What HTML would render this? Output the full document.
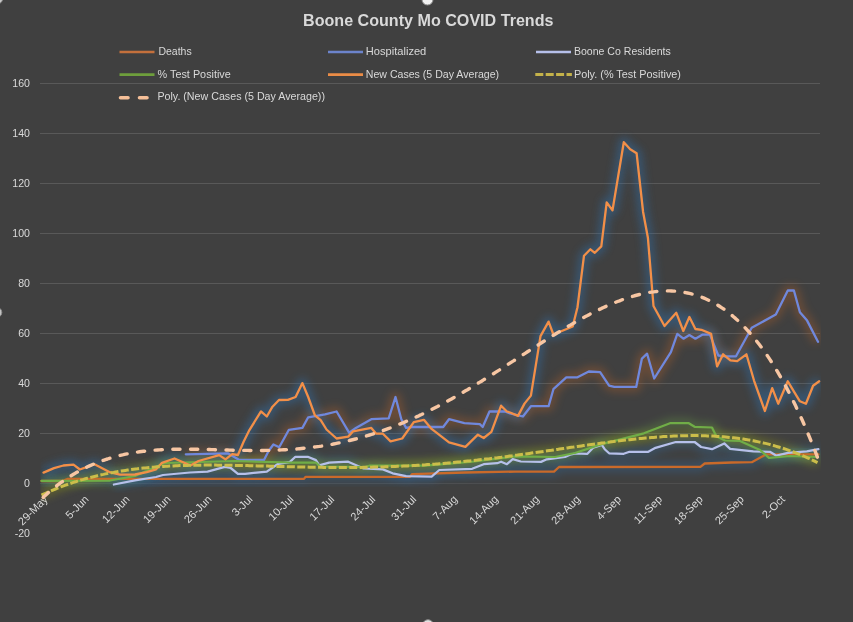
<!DOCTYPE html>
<html><head><meta charset="utf-8"><title>Boone County Mo COVID Trends</title>
<style>
html,body{margin:0;padding:0;background:#404040;}
body{width:853px;height:622px;overflow:hidden;position:relative;}
svg{position:absolute;left:0;top:0;}
.ax,.lg,.ay{font-family:"Liberation Sans",Arial,sans-serif;font-size:11px;fill:#d9d9d9;}
.ay{font-size:10.6px;}
.tt{font-family:"Liberation Sans",Arial,sans-serif;font-size:17px;font-weight:bold;fill:#d9d9d9;}
</style></head><body>
<svg width="853" height="622" viewBox="0 0 853 622">
<text x="303" y="25.7" class="tt" textLength="250.5" lengthAdjust="spacingAndGlyphs">Boone County Mo COVID Trends</text>
<line x1="119.5" y1="52.0" x2="154.5" y2="52.0" stroke="#c4703c" stroke-width="2.6" stroke-linecap="butt"/>
<text x="158.4" y="54.9" class="lg" textLength="33.3" lengthAdjust="spacingAndGlyphs">Deaths</text>
<line x1="328" y1="52.0" x2="363" y2="52.0" stroke="#6c84cc" stroke-width="2.6" stroke-linecap="butt"/>
<text x="365.8" y="54.9" class="lg" textLength="60.5" lengthAdjust="spacingAndGlyphs">Hospitalized</text>
<line x1="536" y1="52.0" x2="571" y2="52.0" stroke="#b6c0ea" stroke-width="2.6" stroke-linecap="butt"/>
<text x="573.9" y="54.9" class="lg" textLength="96.9" lengthAdjust="spacingAndGlyphs">Boone Co Residents</text>
<line x1="119.5" y1="74.6" x2="154.5" y2="74.6" stroke="#6e9e3c" stroke-width="2.6" stroke-linecap="butt"/>
<text x="157.6" y="77.6" class="lg" textLength="73.2" lengthAdjust="spacingAndGlyphs">% Test Positive</text>
<line x1="328" y1="74.6" x2="363" y2="74.6" stroke="#eb8c46" stroke-width="2.6" stroke-linecap="butt"/>
<text x="365.8" y="77.6" class="lg" textLength="133.3" lengthAdjust="spacingAndGlyphs">New Cases (5 Day Average)</text>
<line x1="535.3" y1="74.4" x2="571.9" y2="74.4" stroke="#c4b24a" stroke-width="3" stroke-linecap="butt" stroke-dasharray="8 2.4"/>
<text x="573.9" y="77.6" class="lg" textLength="107.1" lengthAdjust="spacingAndGlyphs">Poly. (% Test Positive)</text>
<line x1="120.5" y1="97.7" x2="148.5" y2="97.7" stroke="#f5bf98" stroke-width="3.6" stroke-linecap="round" stroke-dasharray="7.5 11.5"/>
<text x="157.4" y="100.2" class="lg" textLength="167.6" lengthAdjust="spacingAndGlyphs">Poly. (New Cases (5 Day Average))</text>
<defs><filter id="glow" x="-20%" y="-20%" width="140%" height="140%"><feGaussianBlur stdDeviation="4"/></filter><clipPath id="pa"><rect x="40.5" y="80" width="780.5" height="456"/></clipPath></defs>
<line x1="40" y1="483.5" x2="820" y2="483.5" stroke="#4e4e4e" stroke-width="1"/>
<line x1="40" y1="433.5" x2="820" y2="433.5" stroke="#595959" stroke-width="1"/>
<line x1="40" y1="383.5" x2="820" y2="383.5" stroke="#595959" stroke-width="1"/>
<line x1="40" y1="333.5" x2="820" y2="333.5" stroke="#595959" stroke-width="1"/>
<line x1="40" y1="283.5" x2="820" y2="283.5" stroke="#595959" stroke-width="1"/>
<line x1="40" y1="233.5" x2="820" y2="233.5" stroke="#595959" stroke-width="1"/>
<line x1="40" y1="183.5" x2="820" y2="183.5" stroke="#595959" stroke-width="1"/>
<line x1="40" y1="133.5" x2="820" y2="133.5" stroke="#595959" stroke-width="1"/>
<line x1="40" y1="83.5" x2="820" y2="83.5" stroke="#595959" stroke-width="1"/>
<text x="30" y="537.3" text-anchor="end" class="ay">-20</text>
<text x="30" y="487.2" text-anchor="end" class="ay">0</text>
<text x="30" y="437.1" text-anchor="end" class="ay">20</text>
<text x="30" y="387.0" text-anchor="end" class="ay">40</text>
<text x="30" y="336.9" text-anchor="end" class="ay">60</text>
<text x="30" y="286.8" text-anchor="end" class="ay">80</text>
<text x="30" y="236.7" text-anchor="end" class="ay">100</text>
<text x="30" y="186.6" text-anchor="end" class="ay">120</text>
<text x="30" y="136.6" text-anchor="end" class="ay">140</text>
<text x="30" y="86.5" text-anchor="end" class="ay">160</text>
<text transform="translate(48.5,500.0) rotate(-45)" text-anchor="end" class="ax">29-May</text>
<text transform="translate(89.4,500.0) rotate(-45)" text-anchor="end" class="ax">5-Jun</text>
<text transform="translate(130.4,500.0) rotate(-45)" text-anchor="end" class="ax">12-Jun</text>
<text transform="translate(171.3,500.0) rotate(-45)" text-anchor="end" class="ax">19-Jun</text>
<text transform="translate(212.3,500.0) rotate(-45)" text-anchor="end" class="ax">26-Jun</text>
<text transform="translate(253.2,500.0) rotate(-45)" text-anchor="end" class="ax">3-Jul</text>
<text transform="translate(294.2,500.0) rotate(-45)" text-anchor="end" class="ax">10-Jul</text>
<text transform="translate(335.1,500.0) rotate(-45)" text-anchor="end" class="ax">17-Jul</text>
<text transform="translate(376.1,500.0) rotate(-45)" text-anchor="end" class="ax">24-Jul</text>
<text transform="translate(417.0,500.0) rotate(-45)" text-anchor="end" class="ax">31-Jul</text>
<text transform="translate(458.0,500.0) rotate(-45)" text-anchor="end" class="ax">7-Aug</text>
<text transform="translate(498.9,500.0) rotate(-45)" text-anchor="end" class="ax">14-Aug</text>
<text transform="translate(539.9,500.0) rotate(-45)" text-anchor="end" class="ax">21-Aug</text>
<text transform="translate(580.9,500.0) rotate(-45)" text-anchor="end" class="ax">28-Aug</text>
<text transform="translate(621.8,500.0) rotate(-45)" text-anchor="end" class="ax">4-Sep</text>
<text transform="translate(662.8,500.0) rotate(-45)" text-anchor="end" class="ax">11-Sep</text>
<text transform="translate(703.7,500.0) rotate(-45)" text-anchor="end" class="ax">18-Sep</text>
<text transform="translate(744.6,500.0) rotate(-45)" text-anchor="end" class="ax">25-Sep</text>
<text transform="translate(785.6,500.0) rotate(-45)" text-anchor="end" class="ax">2-Oct</text>
<g clip-path="url(#pa)">
<path d="M41.5,481.0 L62.0,481.0 L68.0,478.9 L304.0,478.9 L305.5,476.8 L410.0,476.8 L412.0,474.2 L465.0,472.5 L515.0,471.6 L554.0,471.6 L559.0,467.0 L700.4,466.9 L704.7,463.5 L731.6,462.5 L751.8,462.2 L766.3,454.3 L818.4,454.3" fill="none" stroke="#2e75b6" stroke-width="10" stroke-linejoin="round" opacity="0.3" filter="url(#glow)"/>
<path d="M185.8,454.3 L227.8,453.3 L236.4,458.2 L239.3,460.0 L264.0,460.0 L268.6,451.0 L273.4,444.5 L279.2,447.2 L288.9,429.8 L302.4,427.9 L308.2,417.3 L325.0,414.4 L336.6,411.5 L349.1,432.7 L355.9,427.9 L371.3,419.2 L388.7,418.3 L395.5,397.0 L401.3,419.2 L406.1,427.9 L411.9,427.0 L443.2,427.0 L449.0,419.2 L464.4,423.1 L479.8,424.1 L482.7,427.0 L489.5,411.5 L504.9,411.5 L510.0,413.3 L522.9,416.5 L530.9,406.2 L548.6,406.2 L553.4,389.2 L566.3,377.3 L577.5,377.3 L588.8,371.5 L600.1,372.1 L609.1,385.6 L614.3,386.9 L636.2,386.9 L641.9,358.6 L647.1,353.7 L654.2,378.5 L670.9,352.2 L677.3,333.9 L683.4,338.7 L689.4,335.1 L695.4,338.7 L702.7,334.6 L709.9,334.6 L718.3,355.5 L725.5,356.3 L736.0,356.3 L751.7,327.8 L761.3,322.5 L775.8,314.6 L787.8,290.5 L793.9,290.5 L799.9,312.2 L807.1,320.6 L818.0,341.8" fill="none" stroke="#b0602a" stroke-width="10" stroke-linejoin="round" opacity="0.38" filter="url(#glow)"/>
<path d="M113.9,484.5 L135.0,480.4 L156.0,477.0 L163.0,475.0 L190.0,472.5 L207.5,471.6 L224.9,466.9 L230.7,468.0 L237.9,473.8 L245.1,473.8 L266.8,471.6 L278.2,463.8 L289.7,462.1 L295.4,456.8 L307.7,456.8 L315.9,460.1 L319.2,465.4 L329.1,462.6 L348.2,461.7 L363.6,468.5 L382.9,469.4 L392.6,473.3 L406.1,476.2 L431.6,476.6 L439.3,470.0 L472.1,468.8 L483.7,464.2 L497.2,463.2 L501.1,461.7 L506.9,464.2 L512.7,459.2 L520.8,461.5 L541.0,461.9 L546.8,459.3 L565.0,457.0 L570.0,454.7 L575.8,453.5 L587.4,453.8 L593.1,447.8 L601.8,444.9 L604.7,449.2 L609.1,453.3 L623.7,453.8 L629.5,451.8 L648.3,451.8 L655.5,447.8 L675.8,442.0 L694.6,442.0 L701.1,447.0 L712.0,449.2 L724.3,443.4 L730.1,448.9 L753.3,451.4 L769.9,451.8 L776.4,455.7 L788.0,452.8 L806.8,451.4 L818.4,449.2" fill="none" stroke="#2e75b6" stroke-width="10" stroke-linejoin="round" opacity="0.3" filter="url(#glow)"/>
<path d="M41.5,480.8 L110.0,480.5 L135.0,476.0 L165.0,463.0 L235.0,461.0 L290.0,462.5 L316.0,462.5 L320.0,466.5 L365.0,467.0 L370.0,465.5 L425.0,465.6 L470.0,462.0 L515.0,456.4 L555.0,457.0 L575.0,453.0 L601.8,444.1 L643.9,433.3 L670.0,423.2 L688.8,423.2 L694.6,426.8 L712.0,427.5 L716.3,436.2 L725.0,440.5 L740.0,441.0 L760.0,450.0 L769.0,457.9 L790.0,456.0 L818.0,457.0" fill="none" stroke="#70ad47" stroke-width="10" stroke-linejoin="round" opacity="0.3" filter="url(#glow)"/>
<path d="M43.5,472.6 L54.0,468.1 L63.4,465.5 L73.5,464.6 L79.9,469.5 L94.5,464.2 L110.3,472.4 L120.0,474.6 L135.0,474.5 L146.7,472.2 L156.1,469.3 L162.0,462.8 L174.5,458.5 L190.5,465.5 L198.5,461.0 L219.2,455.1 L225.5,459.4 L232.2,454.2 L237.9,455.0 L243.6,441.8 L249.4,430.1 L261.0,411.4 L266.8,416.5 L272.5,406.7 L279.0,400.0 L287.9,399.9 L295.6,397.0 L302.4,383.1 L308.2,397.0 L314.9,415.4 L320.7,420.2 L326.5,429.5 L336.6,438.5 L348.2,436.6 L353.0,431.4 L371.3,427.9 L376.2,433.7 L382.9,433.7 L390.6,441.4 L402.2,438.5 L413.8,422.1 L423.9,419.8 L431.6,428.9 L449.0,442.4 L465.4,446.8 L477.9,434.7 L483.7,438.0 L491.4,431.8 L501.1,405.7 L506.9,411.5 L510.0,412.5 L518.0,415.9 L524.5,403.6 L530.9,395.6 L540.5,336.1 L548.6,321.6 L553.4,334.5 L572.7,326.5 L577.5,307.2 L584.0,255.7 L590.4,249.3 L594.8,252.8 L601.3,246.4 L606.7,202.3 L612.5,210.4 L623.8,142.2 L630.2,149.3 L636.6,153.2 L643.1,212.0 L647.9,237.7 L653.5,306.0 L664.5,326.0 L676.3,312.8 L683.3,331.0 L689.4,317.0 L695.4,329.0 L701.4,329.8 L711.1,333.9 L717.1,366.4 L723.1,354.3 L730.4,360.4 L737.2,361.1 L746.4,354.3 L754.1,380.8 L764.9,411.0 L772.2,388.1 L778.2,403.7 L787.8,381.3 L799.9,401.3 L805.9,403.7 L813.1,385.7 L819.2,381.3" fill="none" stroke="#2e75b6" stroke-width="10" stroke-linejoin="round" opacity="0.42" filter="url(#glow)"/>
<path d="M41.5,495.2 L43.5,494.2 L45.5,493.3 L47.5,492.4 L49.5,491.5 L51.5,490.7 L53.5,489.8 L55.5,489.0 L57.5,488.2 L59.5,487.4 L61.5,486.6 L63.5,485.9 L65.5,485.2 L67.5,484.5 L69.5,483.8 L71.5,483.1 L73.5,482.4 L75.5,481.8 L77.5,481.1 L79.5,480.5 L81.5,479.9 L83.5,479.4 L85.5,478.8 L87.5,478.2 L89.5,477.7 L91.5,477.2 L93.5,476.7 L95.5,476.2 L97.5,475.7 L99.5,475.2 L101.5,474.8 L103.5,474.4 L105.5,473.9 L107.5,473.5 L109.5,473.1 L111.5,472.7 L113.5,472.4 L115.5,472.0 L117.5,471.6 L119.5,471.3 L121.5,471.0 L123.5,470.7 L125.5,470.4 L127.5,470.1 L129.5,469.8 L131.5,469.5 L133.5,469.2 L135.5,469.0 L137.5,468.8 L139.5,468.5 L141.5,468.3 L143.5,468.1 L145.5,467.9 L147.5,467.7 L149.5,467.5 L151.5,467.3 L153.5,467.2 L155.5,467.0 L157.5,466.8 L159.5,466.7 L161.5,466.6 L163.5,466.4 L165.5,466.3 L167.5,466.2 L169.5,466.1 L171.5,466.0 L173.5,465.9 L175.5,465.8 L177.5,465.7 L179.5,465.6 L181.5,465.6 L183.5,465.5 L185.5,465.4 L187.5,465.4 L189.5,465.3 L191.5,465.3 L193.5,465.3 L195.5,465.2 L197.5,465.2 L199.5,465.2 L201.5,465.2 L203.5,465.1 L205.5,465.1 L207.5,465.1 L209.5,465.1 L211.5,465.1 L213.5,465.1 L215.5,465.1 L217.5,465.2 L219.5,465.2 L221.5,465.2 L223.5,465.2 L225.5,465.2 L227.5,465.3 L229.5,465.3 L231.5,465.3 L233.5,465.3 L235.5,465.4 L237.5,465.4 L239.5,465.5 L241.5,465.5 L243.5,465.5 L245.5,465.6 L247.5,465.6 L249.5,465.7 L251.5,465.7 L253.5,465.8 L255.5,465.8 L257.5,465.9 L259.5,465.9 L261.5,466.0 L263.5,466.0 L265.5,466.1 L267.5,466.1 L269.5,466.2 L271.5,466.2 L273.5,466.3 L275.5,466.4 L277.5,466.4 L279.5,466.5 L281.5,466.5 L283.5,466.6 L285.5,466.6 L287.5,466.7 L289.5,466.7 L291.5,466.8 L293.5,466.8 L295.5,466.9 L297.5,466.9 L299.5,466.9 L301.5,467.0 L303.5,467.0 L305.5,467.1 L307.5,467.1 L309.5,467.2 L311.5,467.2 L313.5,467.2 L315.5,467.3 L317.5,467.3 L319.5,467.3 L321.5,467.3 L323.5,467.4 L325.5,467.4 L327.5,467.4 L329.5,467.4 L331.5,467.4 L333.5,467.5 L335.5,467.5 L337.5,467.5 L339.5,467.5 L341.5,467.5 L343.5,467.5 L345.5,467.5 L347.5,467.5 L349.5,467.5 L351.5,467.5 L353.5,467.4 L355.5,467.4 L357.5,467.4 L359.5,467.4 L361.5,467.4 L363.5,467.3 L365.5,467.3 L367.5,467.3 L369.5,467.2 L371.5,467.2 L373.5,467.1 L375.5,467.1 L377.5,467.0 L379.5,467.0 L381.5,466.9 L383.5,466.9 L385.5,466.8 L387.5,466.7 L389.5,466.7 L391.5,466.6 L393.5,466.5 L395.5,466.4 L397.5,466.3 L399.5,466.3 L401.5,466.2 L403.5,466.1 L405.5,466.0 L407.5,465.9 L409.5,465.8 L411.5,465.7 L413.5,465.5 L415.5,465.4 L417.5,465.3 L419.5,465.2 L421.5,465.0 L423.5,464.9 L425.5,464.8 L427.5,464.6 L429.5,464.5 L431.5,464.4 L433.5,464.2 L435.5,464.1 L437.5,463.9 L439.5,463.7 L441.5,463.6 L443.5,463.4 L445.5,463.2 L447.5,463.1 L449.5,462.9 L451.5,462.7 L453.5,462.5 L455.5,462.3 L457.5,462.1 L459.5,461.9 L461.5,461.8 L463.5,461.5 L465.5,461.3 L467.5,461.1 L469.5,460.9 L471.5,460.7 L473.5,460.5 L475.5,460.3 L477.5,460.1 L479.5,459.8 L481.5,459.6 L483.5,459.4 L485.5,459.1 L487.5,458.9 L489.5,458.7 L491.5,458.4 L493.5,458.2 L495.5,457.9 L497.5,457.7 L499.5,457.4 L501.5,457.2 L503.5,456.9 L505.5,456.7 L507.5,456.4 L509.5,456.1 L511.5,455.9 L513.5,455.6 L515.5,455.3 L517.5,455.1 L519.5,454.8 L521.5,454.5 L523.5,454.2 L525.5,454.0 L527.5,453.7 L529.5,453.4 L531.5,453.1 L533.5,452.8 L535.5,452.6 L537.5,452.3 L539.5,452.0 L541.5,451.7 L543.5,451.4 L545.5,451.1 L547.5,450.8 L549.5,450.5 L551.5,450.3 L553.5,450.0 L555.5,449.7 L557.5,449.4 L559.5,449.1 L561.5,448.8 L563.5,448.5 L565.5,448.2 L567.5,447.9 L569.5,447.6 L571.5,447.3 L573.5,447.1 L575.5,446.8 L577.5,446.5 L579.5,446.2 L581.5,445.9 L583.5,445.6 L585.5,445.3 L587.5,445.1 L589.5,444.8 L591.5,444.5 L593.5,444.2 L595.5,443.9 L597.5,443.7 L599.5,443.4 L601.5,443.1 L603.5,442.9 L605.5,442.6 L607.5,442.3 L609.5,442.1 L611.5,441.8 L613.5,441.6 L615.5,441.3 L617.5,441.1 L619.5,440.8 L621.5,440.6 L623.5,440.3 L625.5,440.1 L627.5,439.9 L629.5,439.7 L631.5,439.4 L633.5,439.2 L635.5,439.0 L637.5,438.8 L639.5,438.6 L641.5,438.4 L643.5,438.2 L645.5,438.0 L647.5,437.9 L649.5,437.7 L651.5,437.5 L653.5,437.4 L655.5,437.2 L657.5,437.0 L659.5,436.9 L661.5,436.8 L663.5,436.6 L665.5,436.5 L667.5,436.4 L669.5,436.3 L671.5,436.2 L673.5,436.1 L675.5,436.0 L677.5,435.9 L679.5,435.9 L681.5,435.8 L683.5,435.7 L685.5,435.7 L687.5,435.7 L689.5,435.6 L691.5,435.6 L693.5,435.6 L695.5,435.6 L697.5,435.6 L699.5,435.7 L701.5,435.7 L703.5,435.7 L705.5,435.8 L707.5,435.9 L709.5,435.9 L711.5,436.0 L713.5,436.1 L715.5,436.2 L717.5,436.4 L719.5,436.5 L721.5,436.6 L723.5,436.8 L725.5,437.0 L727.5,437.2 L729.5,437.4 L731.5,437.6 L733.5,437.8 L735.5,438.0 L737.5,438.3 L739.5,438.6 L741.5,438.8 L743.5,439.1 L745.5,439.4 L747.5,439.8 L749.5,440.1 L751.5,440.5 L753.5,440.8 L755.5,441.2 L757.5,441.6 L759.5,442.1 L761.5,442.5 L763.5,443.0 L765.5,443.4 L767.5,443.9 L769.5,444.4 L771.5,445.0 L773.5,445.5 L775.5,446.1 L777.5,446.7 L779.5,447.3 L781.5,447.9 L783.5,448.5 L785.5,449.2 L787.5,449.9 L789.5,450.6 L791.5,451.3 L793.5,452.0 L795.5,452.8 L797.5,453.6 L799.5,454.4 L801.5,455.2 L803.5,456.0 L805.5,456.9 L807.5,457.8 L809.5,458.7 L811.5,459.7 L813.5,460.6 L815.5,461.6 L817.5,462.6" fill="none" stroke="#bfbf00" stroke-width="9" stroke-linejoin="round" opacity="0.25" filter="url(#glow)"/>
</g>
<path d="M41.5,481.0 L62.0,481.0 L68.0,478.9 L304.0,478.9 L305.5,476.8 L410.0,476.8 L412.0,474.2 L465.0,472.5 L515.0,471.6 L554.0,471.6 L559.0,467.0 L700.4,466.9 L704.7,463.5 L731.6,462.5 L751.8,462.2 L766.3,454.3 L818.4,454.3" fill="none" stroke="#c96a2a" stroke-width="2.3" stroke-linejoin="round" stroke-linecap="round"/>
<path d="M185.8,454.3 L227.8,453.3 L236.4,458.2 L239.3,460.0 L264.0,460.0 L268.6,451.0 L273.4,444.5 L279.2,447.2 L288.9,429.8 L302.4,427.9 L308.2,417.3 L325.0,414.4 L336.6,411.5 L349.1,432.7 L355.9,427.9 L371.3,419.2 L388.7,418.3 L395.5,397.0 L401.3,419.2 L406.1,427.9 L411.9,427.0 L443.2,427.0 L449.0,419.2 L464.4,423.1 L479.8,424.1 L482.7,427.0 L489.5,411.5 L504.9,411.5 L510.0,413.3 L522.9,416.5 L530.9,406.2 L548.6,406.2 L553.4,389.2 L566.3,377.3 L577.5,377.3 L588.8,371.5 L600.1,372.1 L609.1,385.6 L614.3,386.9 L636.2,386.9 L641.9,358.6 L647.1,353.7 L654.2,378.5 L670.9,352.2 L677.3,333.9 L683.4,338.7 L689.4,335.1 L695.4,338.7 L702.7,334.6 L709.9,334.6 L718.3,355.5 L725.5,356.3 L736.0,356.3 L751.7,327.8 L761.3,322.5 L775.8,314.6 L787.8,290.5 L793.9,290.5 L799.9,312.2 L807.1,320.6 L818.0,341.8" fill="none" stroke="#7088dc" stroke-width="2.3" stroke-linejoin="round" stroke-linecap="round"/>
<path d="M113.9,484.5 L135.0,480.4 L156.0,477.0 L163.0,475.0 L190.0,472.5 L207.5,471.6 L224.9,466.9 L230.7,468.0 L237.9,473.8 L245.1,473.8 L266.8,471.6 L278.2,463.8 L289.7,462.1 L295.4,456.8 L307.7,456.8 L315.9,460.1 L319.2,465.4 L329.1,462.6 L348.2,461.7 L363.6,468.5 L382.9,469.4 L392.6,473.3 L406.1,476.2 L431.6,476.6 L439.3,470.0 L472.1,468.8 L483.7,464.2 L497.2,463.2 L501.1,461.7 L506.9,464.2 L512.7,459.2 L520.8,461.5 L541.0,461.9 L546.8,459.3 L565.0,457.0 L570.0,454.7 L575.8,453.5 L587.4,453.8 L593.1,447.8 L601.8,444.9 L604.7,449.2 L609.1,453.3 L623.7,453.8 L629.5,451.8 L648.3,451.8 L655.5,447.8 L675.8,442.0 L694.6,442.0 L701.1,447.0 L712.0,449.2 L724.3,443.4 L730.1,448.9 L753.3,451.4 L769.9,451.8 L776.4,455.7 L788.0,452.8 L806.8,451.4 L818.4,449.2" fill="none" stroke="#b6c0ea" stroke-width="2.25" stroke-linejoin="round" stroke-linecap="round"/>
<path d="M41.5,480.8 L110.0,480.5 L135.0,476.0 L165.0,463.0 L235.0,461.0 L290.0,462.5 L316.0,462.5 L320.0,466.5 L365.0,467.0 L370.0,465.5 L425.0,465.6 L470.0,462.0 L515.0,456.4 L555.0,457.0 L575.0,453.0 L601.8,444.1 L643.9,433.3 L670.0,423.2 L688.8,423.2 L694.6,426.8 L712.0,427.5 L716.3,436.2 L725.0,440.5 L740.0,441.0 L760.0,450.0 L769.0,457.9 L790.0,456.0 L818.0,457.0" fill="none" stroke="#70ad47" stroke-width="2.25" stroke-linejoin="round" stroke-linecap="round"/>
<path d="M43.5,472.6 L54.0,468.1 L63.4,465.5 L73.5,464.6 L79.9,469.5 L94.5,464.2 L110.3,472.4 L120.0,474.6 L135.0,474.5 L146.7,472.2 L156.1,469.3 L162.0,462.8 L174.5,458.5 L190.5,465.5 L198.5,461.0 L219.2,455.1 L225.5,459.4 L232.2,454.2 L237.9,455.0 L243.6,441.8 L249.4,430.1 L261.0,411.4 L266.8,416.5 L272.5,406.7 L279.0,400.0 L287.9,399.9 L295.6,397.0 L302.4,383.1 L308.2,397.0 L314.9,415.4 L320.7,420.2 L326.5,429.5 L336.6,438.5 L348.2,436.6 L353.0,431.4 L371.3,427.9 L376.2,433.7 L382.9,433.7 L390.6,441.4 L402.2,438.5 L413.8,422.1 L423.9,419.8 L431.6,428.9 L449.0,442.4 L465.4,446.8 L477.9,434.7 L483.7,438.0 L491.4,431.8 L501.1,405.7 L506.9,411.5 L510.0,412.5 L518.0,415.9 L524.5,403.6 L530.9,395.6 L540.5,336.1 L548.6,321.6 L553.4,334.5 L572.7,326.5 L577.5,307.2 L584.0,255.7 L590.4,249.3 L594.8,252.8 L601.3,246.4 L606.7,202.3 L612.5,210.4 L623.8,142.2 L630.2,149.3 L636.6,153.2 L643.1,212.0 L647.9,237.7 L653.5,306.0 L664.5,326.0 L676.3,312.8 L683.3,331.0 L689.4,317.0 L695.4,329.0 L701.4,329.8 L711.1,333.9 L717.1,366.4 L723.1,354.3 L730.4,360.4 L737.2,361.1 L746.4,354.3 L754.1,380.8 L764.9,411.0 L772.2,388.1 L778.2,403.7 L787.8,381.3 L799.9,401.3 L805.9,403.7 L813.1,385.7 L819.2,381.3" fill="none" stroke="#f28f48" stroke-width="2.3" stroke-linejoin="round" stroke-linecap="round"/>
<path d="M41.5,495.2 L43.5,494.2 L45.5,493.3 L47.5,492.4 L49.5,491.5 L51.5,490.7 L53.5,489.8 L55.5,489.0 L57.5,488.2 L59.5,487.4 L61.5,486.6 L63.5,485.9 L65.5,485.2 L67.5,484.5 L69.5,483.8 L71.5,483.1 L73.5,482.4 L75.5,481.8 L77.5,481.1 L79.5,480.5 L81.5,479.9 L83.5,479.4 L85.5,478.8 L87.5,478.2 L89.5,477.7 L91.5,477.2 L93.5,476.7 L95.5,476.2 L97.5,475.7 L99.5,475.2 L101.5,474.8 L103.5,474.4 L105.5,473.9 L107.5,473.5 L109.5,473.1 L111.5,472.7 L113.5,472.4 L115.5,472.0 L117.5,471.6 L119.5,471.3 L121.5,471.0 L123.5,470.7 L125.5,470.4 L127.5,470.1 L129.5,469.8 L131.5,469.5 L133.5,469.2 L135.5,469.0 L137.5,468.8 L139.5,468.5 L141.5,468.3 L143.5,468.1 L145.5,467.9 L147.5,467.7 L149.5,467.5 L151.5,467.3 L153.5,467.2 L155.5,467.0 L157.5,466.8 L159.5,466.7 L161.5,466.6 L163.5,466.4 L165.5,466.3 L167.5,466.2 L169.5,466.1 L171.5,466.0 L173.5,465.9 L175.5,465.8 L177.5,465.7 L179.5,465.6 L181.5,465.6 L183.5,465.5 L185.5,465.4 L187.5,465.4 L189.5,465.3 L191.5,465.3 L193.5,465.3 L195.5,465.2 L197.5,465.2 L199.5,465.2 L201.5,465.2 L203.5,465.1 L205.5,465.1 L207.5,465.1 L209.5,465.1 L211.5,465.1 L213.5,465.1 L215.5,465.1 L217.5,465.2 L219.5,465.2 L221.5,465.2 L223.5,465.2 L225.5,465.2 L227.5,465.3 L229.5,465.3 L231.5,465.3 L233.5,465.3 L235.5,465.4 L237.5,465.4 L239.5,465.5 L241.5,465.5 L243.5,465.5 L245.5,465.6 L247.5,465.6 L249.5,465.7 L251.5,465.7 L253.5,465.8 L255.5,465.8 L257.5,465.9 L259.5,465.9 L261.5,466.0 L263.5,466.0 L265.5,466.1 L267.5,466.1 L269.5,466.2 L271.5,466.2 L273.5,466.3 L275.5,466.4 L277.5,466.4 L279.5,466.5 L281.5,466.5 L283.5,466.6 L285.5,466.6 L287.5,466.7 L289.5,466.7 L291.5,466.8 L293.5,466.8 L295.5,466.9 L297.5,466.9 L299.5,466.9 L301.5,467.0 L303.5,467.0 L305.5,467.1 L307.5,467.1 L309.5,467.2 L311.5,467.2 L313.5,467.2 L315.5,467.3 L317.5,467.3 L319.5,467.3 L321.5,467.3 L323.5,467.4 L325.5,467.4 L327.5,467.4 L329.5,467.4 L331.5,467.4 L333.5,467.5 L335.5,467.5 L337.5,467.5 L339.5,467.5 L341.5,467.5 L343.5,467.5 L345.5,467.5 L347.5,467.5 L349.5,467.5 L351.5,467.5 L353.5,467.4 L355.5,467.4 L357.5,467.4 L359.5,467.4 L361.5,467.4 L363.5,467.3 L365.5,467.3 L367.5,467.3 L369.5,467.2 L371.5,467.2 L373.5,467.1 L375.5,467.1 L377.5,467.0 L379.5,467.0 L381.5,466.9 L383.5,466.9 L385.5,466.8 L387.5,466.7 L389.5,466.7 L391.5,466.6 L393.5,466.5 L395.5,466.4 L397.5,466.3 L399.5,466.3 L401.5,466.2 L403.5,466.1 L405.5,466.0 L407.5,465.9 L409.5,465.8 L411.5,465.7 L413.5,465.5 L415.5,465.4 L417.5,465.3 L419.5,465.2 L421.5,465.0 L423.5,464.9 L425.5,464.8 L427.5,464.6 L429.5,464.5 L431.5,464.4 L433.5,464.2 L435.5,464.1 L437.5,463.9 L439.5,463.7 L441.5,463.6 L443.5,463.4 L445.5,463.2 L447.5,463.1 L449.5,462.9 L451.5,462.7 L453.5,462.5 L455.5,462.3 L457.5,462.1 L459.5,461.9 L461.5,461.8 L463.5,461.5 L465.5,461.3 L467.5,461.1 L469.5,460.9 L471.5,460.7 L473.5,460.5 L475.5,460.3 L477.5,460.1 L479.5,459.8 L481.5,459.6 L483.5,459.4 L485.5,459.1 L487.5,458.9 L489.5,458.7 L491.5,458.4 L493.5,458.2 L495.5,457.9 L497.5,457.7 L499.5,457.4 L501.5,457.2 L503.5,456.9 L505.5,456.7 L507.5,456.4 L509.5,456.1 L511.5,455.9 L513.5,455.6 L515.5,455.3 L517.5,455.1 L519.5,454.8 L521.5,454.5 L523.5,454.2 L525.5,454.0 L527.5,453.7 L529.5,453.4 L531.5,453.1 L533.5,452.8 L535.5,452.6 L537.5,452.3 L539.5,452.0 L541.5,451.7 L543.5,451.4 L545.5,451.1 L547.5,450.8 L549.5,450.5 L551.5,450.3 L553.5,450.0 L555.5,449.7 L557.5,449.4 L559.5,449.1 L561.5,448.8 L563.5,448.5 L565.5,448.2 L567.5,447.9 L569.5,447.6 L571.5,447.3 L573.5,447.1 L575.5,446.8 L577.5,446.5 L579.5,446.2 L581.5,445.9 L583.5,445.6 L585.5,445.3 L587.5,445.1 L589.5,444.8 L591.5,444.5 L593.5,444.2 L595.5,443.9 L597.5,443.7 L599.5,443.4 L601.5,443.1 L603.5,442.9 L605.5,442.6 L607.5,442.3 L609.5,442.1 L611.5,441.8 L613.5,441.6 L615.5,441.3 L617.5,441.1 L619.5,440.8 L621.5,440.6 L623.5,440.3 L625.5,440.1 L627.5,439.9 L629.5,439.7 L631.5,439.4 L633.5,439.2 L635.5,439.0 L637.5,438.8 L639.5,438.6 L641.5,438.4 L643.5,438.2 L645.5,438.0 L647.5,437.9 L649.5,437.7 L651.5,437.5 L653.5,437.4 L655.5,437.2 L657.5,437.0 L659.5,436.9 L661.5,436.8 L663.5,436.6 L665.5,436.5 L667.5,436.4 L669.5,436.3 L671.5,436.2 L673.5,436.1 L675.5,436.0 L677.5,435.9 L679.5,435.9 L681.5,435.8 L683.5,435.7 L685.5,435.7 L687.5,435.7 L689.5,435.6 L691.5,435.6 L693.5,435.6 L695.5,435.6 L697.5,435.6 L699.5,435.7 L701.5,435.7 L703.5,435.7 L705.5,435.8 L707.5,435.9 L709.5,435.9 L711.5,436.0 L713.5,436.1 L715.5,436.2 L717.5,436.4 L719.5,436.5 L721.5,436.6 L723.5,436.8 L725.5,437.0 L727.5,437.2 L729.5,437.4 L731.5,437.6 L733.5,437.8 L735.5,438.0 L737.5,438.3 L739.5,438.6 L741.5,438.8 L743.5,439.1 L745.5,439.4 L747.5,439.8 L749.5,440.1 L751.5,440.5 L753.5,440.8 L755.5,441.2 L757.5,441.6 L759.5,442.1 L761.5,442.5 L763.5,443.0 L765.5,443.4 L767.5,443.9 L769.5,444.4 L771.5,445.0 L773.5,445.5 L775.5,446.1 L777.5,446.7 L779.5,447.3 L781.5,447.9 L783.5,448.5 L785.5,449.2 L787.5,449.9 L789.5,450.6 L791.5,451.3 L793.5,452.0 L795.5,452.8 L797.5,453.6 L799.5,454.4 L801.5,455.2 L803.5,456.0 L805.5,456.9 L807.5,457.8 L809.5,458.7 L811.5,459.7 L813.5,460.6 L815.5,461.6 L817.5,462.6" fill="none" stroke="#cbbd4a" stroke-width="3" stroke-linejoin="round" stroke-linecap="butt" stroke-dasharray="8 2.4"/>
<path d="M41.5,499.0 L43.5,497.1 L45.5,495.2 L47.5,493.4 L49.5,491.7 L51.5,490.0 L53.5,488.4 L55.5,486.8 L57.5,485.2 L59.5,483.7 L61.5,482.2 L63.5,480.8 L65.5,479.4 L67.5,478.1 L69.5,476.8 L71.5,475.5 L73.5,474.3 L75.5,473.1 L77.5,472.0 L79.5,470.9 L81.5,469.8 L83.5,468.8 L85.5,467.8 L87.5,466.8 L89.5,465.9 L91.5,465.0 L93.5,464.1 L95.5,463.3 L97.5,462.5 L99.5,461.7 L101.5,461.0 L103.5,460.3 L105.5,459.6 L107.5,459.0 L109.5,458.3 L111.5,457.7 L113.5,457.2 L115.5,456.6 L117.5,456.1 L119.5,455.6 L121.5,455.1 L123.5,454.7 L125.5,454.2 L127.5,453.8 L129.5,453.4 L131.5,453.1 L133.5,452.7 L135.5,452.4 L137.5,452.1 L139.5,451.8 L141.5,451.5 L143.5,451.3 L145.5,451.1 L147.5,450.8 L149.5,450.6 L151.5,450.5 L153.5,450.3 L155.5,450.1 L157.5,450.0 L159.5,449.9 L161.5,449.7 L163.5,449.6 L165.5,449.5 L167.5,449.5 L169.5,449.4 L171.5,449.3 L173.5,449.3 L175.5,449.2 L177.5,449.2 L179.5,449.2 L181.5,449.2 L183.5,449.1 L185.5,449.1 L187.5,449.2 L189.5,449.2 L191.5,449.2 L193.5,449.2 L195.5,449.2 L197.5,449.3 L199.5,449.3 L201.5,449.3 L203.5,449.4 L205.5,449.4 L207.5,449.5 L209.5,449.5 L211.5,449.6 L213.5,449.6 L215.5,449.7 L217.5,449.8 L219.5,449.8 L221.5,449.9 L223.5,449.9 L225.5,450.0 L227.5,450.0 L229.5,450.1 L231.5,450.1 L233.5,450.2 L235.5,450.2 L237.5,450.3 L239.5,450.3 L241.5,450.4 L243.5,450.4 L245.5,450.4 L247.5,450.4 L249.5,450.5 L251.5,450.5 L253.5,450.5 L255.5,450.5 L257.5,450.5 L259.5,450.5 L261.5,450.5 L263.5,450.5 L265.5,450.4 L267.5,450.4 L269.5,450.4 L271.5,450.3 L273.5,450.2 L275.5,450.2 L277.5,450.1 L279.5,450.0 L281.5,449.9 L283.5,449.8 L285.5,449.7 L287.5,449.6 L289.5,449.5 L291.5,449.4 L293.5,449.2 L295.5,449.1 L297.5,448.9 L299.5,448.7 L301.5,448.5 L303.5,448.3 L305.5,448.1 L307.5,447.9 L309.5,447.7 L311.5,447.4 L313.5,447.2 L315.5,446.9 L317.5,446.6 L319.5,446.4 L321.5,446.1 L323.5,445.7 L325.5,445.4 L327.5,445.1 L329.5,444.7 L331.5,444.4 L333.5,444.0 L335.5,443.6 L337.5,443.2 L339.5,442.8 L341.5,442.4 L343.5,441.9 L345.5,441.5 L347.5,441.0 L349.5,440.5 L351.5,440.0 L353.5,439.5 L355.5,439.0 L357.5,438.5 L359.5,437.9 L361.5,437.4 L363.5,436.8 L365.5,436.2 L367.5,435.6 L369.5,435.0 L371.5,434.4 L373.5,433.8 L375.5,433.1 L377.5,432.4 L379.5,431.8 L381.5,431.1 L383.5,430.4 L385.5,429.6 L387.5,428.9 L389.5,428.2 L391.5,427.4 L393.5,426.6 L395.5,425.8 L397.5,425.0 L399.5,424.2 L401.5,423.4 L403.5,422.6 L405.5,421.7 L407.5,420.9 L409.5,420.0 L411.5,419.1 L413.5,418.2 L415.5,417.3 L417.5,416.4 L419.5,415.4 L421.5,414.5 L423.5,413.5 L425.5,412.5 L427.5,411.5 L429.5,410.6 L431.5,409.5 L433.5,408.5 L435.5,407.5 L437.5,406.5 L439.5,405.4 L441.5,404.3 L443.5,403.3 L445.5,402.2 L447.5,401.1 L449.5,400.0 L451.5,398.9 L453.5,397.8 L455.5,396.6 L457.5,395.5 L459.5,394.3 L461.5,393.2 L463.5,392.0 L465.5,390.8 L467.5,389.7 L469.5,388.5 L471.5,387.3 L473.5,386.1 L475.5,384.9 L477.5,383.6 L479.5,382.4 L481.5,381.2 L483.5,379.9 L485.5,378.7 L487.5,377.5 L489.5,376.2 L491.5,374.9 L493.5,373.7 L495.5,372.4 L497.5,371.1 L499.5,369.9 L501.5,368.6 L503.5,367.3 L505.5,366.0 L507.5,364.7 L509.5,363.4 L511.5,362.1 L513.5,360.9 L515.5,359.6 L517.5,358.3 L519.5,357.0 L521.5,355.7 L523.5,354.4 L525.5,353.1 L527.5,351.8 L529.5,350.5 L531.5,349.2 L533.5,347.9 L535.5,346.6 L537.5,345.4 L539.5,344.1 L541.5,342.8 L543.5,341.5 L545.5,340.3 L547.5,339.0 L549.5,337.7 L551.5,336.5 L553.5,335.2 L555.5,334.0 L557.5,332.8 L559.5,331.6 L561.5,330.3 L563.5,329.1 L565.5,327.9 L567.5,326.7 L569.5,325.6 L571.5,324.4 L573.5,323.2 L575.5,322.1 L577.5,321.0 L579.5,319.8 L581.5,318.7 L583.5,317.6 L585.5,316.5 L587.5,315.5 L589.5,314.4 L591.5,313.4 L593.5,312.4 L595.5,311.4 L597.5,310.4 L599.5,309.4 L601.5,308.4 L603.5,307.5 L605.5,306.6 L607.5,305.7 L609.5,304.8 L611.5,304.0 L613.5,303.1 L615.5,302.3 L617.5,301.5 L619.5,300.8 L621.5,300.0 L623.5,299.3 L625.5,298.6 L627.5,297.9 L629.5,297.3 L631.5,296.7 L633.5,296.1 L635.5,295.5 L637.5,295.0 L639.5,294.5 L641.5,294.0 L643.5,293.6 L645.5,293.2 L647.5,292.8 L649.5,292.4 L651.5,292.1 L653.5,291.9 L655.5,291.6 L657.5,291.4 L659.5,291.2 L661.5,291.1 L663.5,291.0 L665.5,290.9 L667.5,290.9 L669.5,290.9 L671.5,291.0 L673.5,291.1 L675.5,291.2 L677.5,291.4 L679.5,291.6 L681.5,291.9 L683.5,292.2 L685.5,292.6 L687.5,293.0 L689.5,293.4 L691.5,293.9 L693.5,294.4 L695.5,295.0 L697.5,295.7 L699.5,296.4 L701.5,297.1 L703.5,297.9 L705.5,298.8 L707.5,299.7 L709.5,300.6 L711.5,301.6 L713.5,302.7 L715.5,303.8 L717.5,305.0 L719.5,306.3 L721.5,307.6 L723.5,308.9 L725.5,310.4 L727.5,311.9 L729.5,313.4 L731.5,315.0 L733.5,316.7 L735.5,318.4 L737.5,320.2 L739.5,322.1 L741.5,324.1 L743.5,326.1 L745.5,328.2 L747.5,330.3 L749.5,332.5 L751.5,334.8 L753.5,337.2 L755.5,339.6 L757.5,342.2 L759.5,344.8 L761.5,347.4 L763.5,350.2 L765.5,353.0 L767.5,355.9 L769.5,358.9 L771.5,362.0 L773.5,365.1 L775.5,368.4 L777.5,371.7 L779.5,375.1 L781.5,378.6 L783.5,382.2 L785.5,385.9 L787.5,389.6 L789.5,393.5 L791.5,397.4 L793.5,401.4 L795.5,405.6 L797.5,409.8 L799.5,414.1 L801.5,418.5 L803.5,423.0 L805.5,427.7 L807.5,432.4 L809.5,437.2 L811.5,442.1 L813.5,447.1 L815.5,452.2 L817.5,457.5" fill="none" stroke="#f7c6a3" stroke-width="3.4" stroke-linejoin="round" stroke-linecap="round" stroke-dasharray="7.2 10.535" stroke-dashoffset="-2.3"/>
<circle cx="427.5" cy="-0.5" r="5.5" fill="#f2f2f2" stroke="#8c8c8c" stroke-width="1"/>
<circle cx="-3.2" cy="312.4" r="5" fill="#c4c4c4" stroke="#8c8c8c" stroke-width="1"/>
<circle cx="-2.4" cy="-1.2" r="5" fill="#c8c8c8" stroke="#8c8c8c" stroke-width="1"/>
<circle cx="428" cy="625" r="5.3" fill="#e0e0e0" stroke="#8c8c8c" stroke-width="1"/>
</svg>
</body></html>
